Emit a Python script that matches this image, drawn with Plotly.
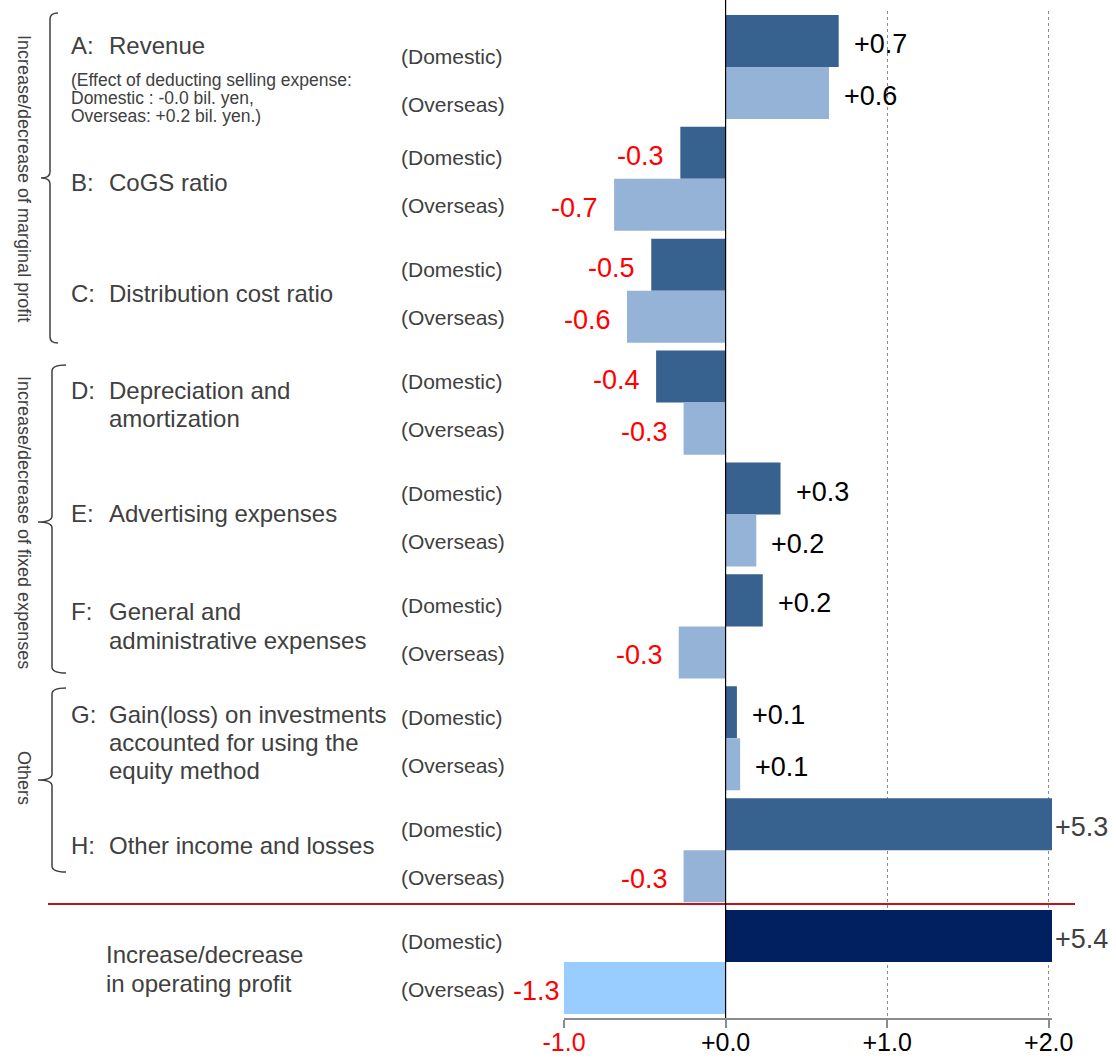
import plotly.graph_objects as go

# ---------------- data ----------------
groups = ["A", "B", "C", "D", "E", "F", "G", "H", "Total"]
domestic = [0.70, -0.28, -0.46, -0.43, 0.34, 0.23, 0.07, 5.3, 5.4]
overseas = [0.64, -0.69, -0.61, -0.26, 0.19, -0.29, 0.09, -0.26, -1.3]

letters = ["A:", "B:", "C:", "D:", "E:", "F:", "G:", "H:", ""]
names = [
    ["Revenue"],
    ["CoGS ratio"],
    ["Distribution cost ratio"],
    ["Depreciation and", "amortization"],
    ["Advertising expenses"],
    ["General and", "administrative expenses"],
    ["Gain(loss) on investments", "accounted for using the", "equity method"],
    ["Other income and losses"],
    ["Increase/decrease", "in operating profit"],
]
note_lines = ["(Effect of deducting selling expense:",
              "Domestic : -0.0 bil. yen,",
              "Overseas: +0.2 bil. yen.)"]
section_titles = ["Increase/decrease of marginal profit",
                  "Increase/decrease of fixed expenses",
                  "Others"]
tick_vals = [-1, 0, 1, 2]
tick_text = ['<span style="color:#FF0000">-1.0</span>', "+0.0", "+1.0", "+2.0"]

XMIN, XMAX = -1.0, 2.02

# ---------------- layout geometry ----------------
W, H = 1116, 1061
ML, MR, MT, MB = 564, 64, 11, 43
PW = W - ML - MR
PH = H - MT - MB


def xp(px):
    return (px - ML) / PW


def yp(py):
    return 1 - (py - MT) / PH


dom_colors = ["#37618F"] * 8 + ["#002060"]
ovs_colors = ["#95B3D7"] * 8 + ["#99CCFF"]

fig = go.Figure()
fig.add_trace(go.Bar(y=groups, x=domestic, orientation="h", name="Domestic",
                     marker=dict(color=dom_colors, line=dict(width=0))))
fig.add_trace(go.Bar(y=groups, x=overseas, orientation="h", name="Overseas",
                     marker=dict(color=ovs_colors, line=dict(width=0))))

FONT = "Liberation Sans, Arial, sans-serif"
GREY = "#404040"
ann = []

# value labels
for series, ysh in ((domestic, 23), (overseas, -29)):
    for g, v in zip(groups, series):
        clipped = v > XMAX or v < XMIN
        xv = min(max(v, XMIN), 2.0)
        if v >= 0:
            ann.append(dict(x=xv, y=g, xref="x", yref="y", text=f"{v:+.1f}",
                            xanchor="left", yanchor="middle", showarrow=False,
                            xshift=4 if clipped else 13, yshift=ysh,
                            font=dict(family=FONT, size=27,
                                      color=GREY if clipped else "#000000")))
        else:
            ann.append(dict(x=xv, y=g, xref="x", yref="y", text=f"{v:+.1f}",
                            xanchor="right", yanchor="middle", showarrow=False,
                            xshift=-2 if clipped else -14, yshift=ysh,
                            font=dict(family=FONT, size=27, color="#FF0000")))

# Domestic / Overseas labels
for i, g in enumerate(groups):
    extra = -11 if i == 0 else 0
    ann.append(dict(x=xp(399), y=g, xref="paper", yref="y", text="(Domestic)",
                    xanchor="left", yanchor="middle", showarrow=False,
                    yshift=21 + extra, font=dict(family=FONT, size=21, color=GREY)))
    ann.append(dict(x=xp(399), y=g, xref="paper", yref="y", text="(Overseas)",
                    xanchor="left", yanchor="middle", showarrow=False,
                    yshift=-27 + extra, font=dict(family=FONT, size=21, color=GREY)))

# category labels (one annotation per line)
line_y = [[46], [183], [293], [390, 418], [513], [611, 640],
          [714, 742, 770], [845], [954, 983]]
for i in range(len(groups)):
    if letters[i]:
        ann.append(dict(x=xp(69), y=yp(line_y[i][0]), xref="paper", yref="paper",
                        text=letters[i], xanchor="left", yanchor="middle",
                        showarrow=False, font=dict(family=FONT, size=24, color=GREY)))
        nx = 107
    else:
        nx = 104
    for txt, ly in zip(names[i], line_y[i]):
        ann.append(dict(x=xp(nx), y=yp(ly), xref="paper", yref="paper",
                        text=txt, xanchor="left", yanchor="middle",
                        showarrow=False, font=dict(family=FONT, size=24, color=GREY)))

# note
for txt, ly in zip(note_lines, [80, 98, 116]):
    ann.append(dict(x=xp(69), y=yp(ly), xref="paper", yref="paper", text=txt,
                    xanchor="left", yanchor="middle", showarrow=False,
                    font=dict(family=FONT, size=17.5, color=GREY)))

# rotated section titles
for t, cy in zip(section_titles, [178, 522, 778]):
    ann.append(dict(x=xp(24), y=yp(cy), xref="paper", yref="paper", text=t,
                    textangle=90, xanchor="center", yanchor="middle", showarrow=False,
                    font=dict(family=FONT, size=18, color=GREY)))

shapes = []


def brace(xv, xr, xn, top, mid, bot):
    X = xp
    Y = yp
    r = 6
    path = (f"M {X(xr)},{Y(top)} Q {X(xv)},{Y(top)} {X(xv)},{Y(top + r)} "
            f"L {X(xv)},{Y(mid - r)} Q {X(xv)},{Y(mid)} {X(xn)},{Y(mid)} "
            f"Q {X(xv)},{Y(mid)} {X(xv)},{Y(mid + r)} "
            f"L {X(xv)},{Y(bot - r)} Q {X(xv)},{Y(bot)} {X(xr)},{Y(bot)}")
    return dict(type="path", path=path, xref="paper", yref="paper",
                line=dict(color=GREY, width=1.5))


shapes.append(brace(50, 58, 41, 13, 178, 343))
shapes.append(brace(52, 66, 38, 365, 522, 673))
shapes.append(brace(52, 66, 38, 688, 780, 872))

# red separator
shapes.append(dict(type="line", xref="paper", yref="paper", x0=xp(48), x1=xp(1075),
                   y0=yp(904), y1=yp(904), line=dict(color="#C0161B", width=2)))
# zero line extension above plot
shapes.append(dict(type="line", xref="x", yref="paper", x0=0, x1=0, y0=0, y1=yp(0),
                   line=dict(color="#000000", width=1.2), layer="above"))

fig.update_layout(
    template="none",
    width=W, height=H, autosize=False,
    margin=dict(l=ML, r=MR, t=MT, b=MB, pad=0),
    paper_bgcolor="white", plot_bgcolor="white",
    barmode="group", bargap=0.07, bargroupgap=0,
    showlegend=False,
    annotations=ann, shapes=shapes,
    font=dict(family=FONT),
    xaxis=dict(range=[XMIN, XMAX], tickvals=tick_vals, ticktext=tick_text,
               automargin=False,
               showgrid=True, gridcolor="#8C8C8C", griddash="dot", gridwidth=1,
               zeroline=False,
               showline=True, linecolor="#8C8C8C", linewidth=2,
               ticks="outside", ticklen=8, tickcolor="#8C8C8C", tickwidth=2,
               ticklabelstandoff=-7,
               tickfont=dict(family=FONT, size=25, color="#000000")),
    yaxis=dict(type="category", autorange="reversed", showticklabels=False,
               automargin=False,
               showgrid=False, zeroline=False, showline=False, ticks=""),
)

fig.write_html("out.html")
